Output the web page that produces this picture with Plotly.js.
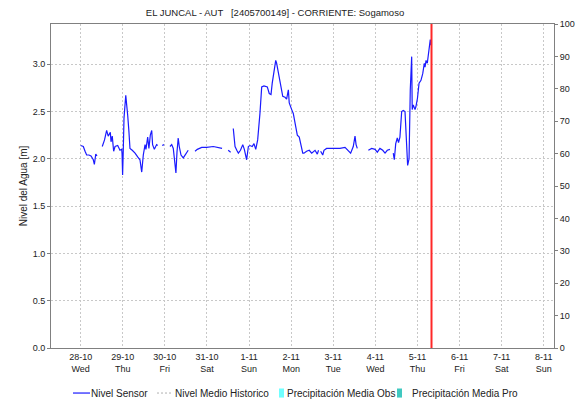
<!DOCTYPE html>
<html>
<head>
<meta charset="utf-8">
<script src="https://cdn.plot.ly/plotly-3.0.1.min.js"></script>
<style>html,body{margin:0;padding:0;background:#fff;}#chart{width:577px;height:404px;}</style>
</head>
<body>
<div id="chart"></div>
<script>
// ---- data ----
const startDate = "2020-10-28";
const currentTime = "2020-11-05 08:00:00";
// hours since 28-10 00:00 (null level = gap in record)
const hours = [
  0,1.5,2.5,3.4,4.7,5.9,7.2,7.8,8.6,9.3, 10.8,
  12.3,13.6,14.8,15.7,16.9,17.3,18.0,18.8,19.6,21.1,22.4,23.4,23.6,23.9,24.3,24.7,25.7,26.2,26.8,27.5,28.1,29.4,31.0,32.5,33.8,34.8,35.7,36.7,37.2,38.2,38.9,39.7,40.5,41.0,42.0,43.3,43.9, 45,
  46.5,47.5, 49,
  50.9,51.9,52.8,53.8,54.3,54.9,55.6,56.2,57.2,58.5,60.0,61.3, 63,
  65.2,66.5,69.0,71.8,75.6,79.4,80.6, 82,
  84.1,85.5, 86.2,
  87.0,88.0,89.0,89.9,91.1,92.4,93.3,94.6,95.6,96.5,97.8,98.8,99.8,100.9,102.2,103.2,104.5,106.4,107.5,108.5,109.2,110.2,111.2,111.7,112.7,113.6,115.2,116.5,117.4,118.4,118.9,120.3,121.2,122.6,123.5,124.6,125.6,126.6,127.3,128.8,130.3,131.7,133.6,134.9,135.6, 136.2,
  136.8,138.0,138.7,140.2,144.0,147.8,150.7,152.6,153.9,155.4,156.4,157.0,157.7, 160,
  164.0,165.9,167.8,169.1,170.6,172.2,173.5,174.8,176.3, 177.2,
  178.2,178.8,179.6,180.5,181.2,182.0,183.0,183.9,184.9,185.4,186.0,186.4,187.2,187.9,188.7,188.9,189.0,189.6,190.6,191.1,192.0,192.9,194.0,195.0,195.9,196.3,196.9,197.6,198.2,198.7,199.3,199.7,199.9
];
const nivelSensor = [
  2.14,2.13,2.08,2.04,2.04,2.03,1.99,1.94,2.05,2.03, null,
  2.13,2.20,2.30,2.24,2.28,2.18,2.24,2.08,2.13,2.14,2.09,2.10,2.05,1.83,2.10,2.43,2.67,2.60,2.46,2.29,2.11,2.09,2.06,2.02,1.99,1.86,2.04,2.15,2.10,2.23,2.11,2.25,2.30,2.15,2.10,2.15,2.14, null,
  2.14,2.15, null,
  2.13,2.15,2.11,1.93,1.85,2.07,2.22,2.13,2.04,2.01,2.05,2.09, null,
  2.08,2.10,2.12,2.12,2.13,2.12,2.11, null,
  2.09,2.07, null,
  2.32,2.13,2.09,2.06,2.09,2.15,2.10,1.99,2.13,2.14,2.13,2.16,2.10,2.20,2.48,2.76,2.77,2.76,2.69,2.68,2.80,2.94,3.04,3.01,2.91,2.80,2.66,2.65,2.63,2.73,2.59,2.52,2.48,2.34,2.25,2.23,2.15,2.06,2.06,2.08,2.09,2.06,2.09,2.05,2.09, null,
  2.08,2.04,2.09,2.11,2.11,2.11,2.12,2.09,2.06,2.13,2.24,2.15,2.11, null,
  2.09,2.11,2.10,2.07,2.11,2.09,2.06,2.09,2.10, null,
  2.06,1.99,2.16,2.22,2.17,2.23,2.50,2.51,2.50,2.28,2.03,1.93,2.00,2.73,3.08,2.74,2.52,2.57,2.52,2.55,2.64,2.80,2.83,2.90,3.01,2.97,3.04,3.01,3.10,3.20,3.26,3.20,3.22
];
const tickDates = ["2020-10-28","2020-10-29","2020-10-30","2020-10-31","2020-11-01","2020-11-02","2020-11-03","2020-11-04","2020-11-05","2020-11-06","2020-11-07","2020-11-08"];
const tickDayMonth = ["28-10","29-10","30-10","31-10","1-11","2-11","3-11","4-11","5-11","6-11","7-11","8-11"];
const tickWeekday = ["Wed","Thu","Fri","Sat","Sun","Mon","Tue","Wed","Thu","Fri","Sat","Sun"];
const legendNames = ["Nivel Sensor","Nivel Medio Historico","Precipitación Media Obs","Precipitación Media Pro"];
const xRange = ["2020-10-27 07:05:00","2020-11-08 05:50:00"];
const yRange = [0, 3.425];
const y2Range = [0, 100];

// ---- build ----
const t0 = Date.UTC(2020, 9, 28);
function fmt(ms){ return new Date(ms).toISOString().replace('T',' ').slice(0,19); }
const times = hours.map(h => fmt(t0 + h*3600e3));
const tickText = tickDayMonth.map((d,i) => d + "<br>" + tickWeekday[i]);

const font = "Liberation Sans, Arial, sans-serif";
const traces = [
  {x: times, y: nivelSensor, type: 'scatter', mode: 'lines', name: legendNames[0],
   line: {color: '#1a1aff', width: 1.2}, connectgaps: false, showlegend: false, hoverinfo: 'x+y'},
  {x: [], y: [], type: 'scatter', mode: 'lines', name: legendNames[1], yaxis: 'y', showlegend: false},
  {x: [], y: [], type: 'bar', name: legendNames[2], yaxis: 'y2', showlegend: false, marker: {color: '#70ffff'}},
  {x: [], y: [], type: 'bar', name: legendNames[3], yaxis: 'y2', showlegend: false, marker: {color: '#40c8c0'}},
  {x: [currentTime, currentTime], y: y2Range, type: 'scatter', mode: 'lines', yaxis: 'y2', name: 'now',
   line: {color: 'rgb(255,40,40)', width: 2}, showlegend: false, cliponaxis: true}
];

function px2x(p){ return (p - 51) / 503; }
const ly = -0.139;
const shapes = [
  {type: 'line', xref: 'paper', yref: 'paper', x0: px2x(73), x1: px2x(90), y0: ly, y1: ly,
   line: {color: '#1a1aff', width: 1.2}},
  {type: 'line', xref: 'paper', yref: 'paper', x0: px2x(157), x1: px2x(171), y0: ly, y1: ly,
   line: {color: '#b0b0b0', width: 1, dash: '2px,2px'}},
  {type: 'rect', xref: 'paper', yref: 'paper', x0: px2x(279), x1: px2x(284), y0: ly - 0.014, y1: ly + 0.014,
   line: {width: 0}, fillcolor: '#70ffff'},
  {type: 'rect', xref: 'paper', yref: 'paper', x0: px2x(397), x1: px2x(402), y0: ly - 0.014, y1: ly + 0.014,
   line: {width: 0}, fillcolor: '#40c8c0'}
];
const legendX = [91, 175, 287, 412];
const annotations = legendNames.map((n,i) => ({
  text: n, xref: 'paper', yref: 'paper', x: px2x(legendX[i]) - 0.003, y: ly,
  xanchor: 'left', yanchor: 'middle', showarrow: false,
  font: {family: font, size: 10, color: '#222'}
}));

const gridStyle = {showgrid: true, gridcolor: '#c8c8c8', griddash: '2px,2px', gridwidth: 1};

const layout = {
  width: 577, height: 404,
  margin: {l: 51, r: 23, t: 24, b: 56, pad: 0},
  paper_bgcolor: '#ffffff', plot_bgcolor: '#ffffff',
  showlegend: false,
  title: {text: "EL JUNCAL - AUT &nbsp; [2405700149] - CORRIENTE: Sogamoso",
          x: 275/577, xanchor: 'center', xref: 'container', y: 1 - 13/404, yanchor: 'middle',
          font: {family: font, size: 9.5, color: '#222'}},
  xaxis: Object.assign({type: 'date', range: xRange, tickvals: tickDates, ticktext: tickText,
          showline: true, linecolor: '#808080', linewidth: 1, mirror: true,
          ticks: '', zeroline: false, tickfont: {family: font, size: 9, color: '#222'}}, gridStyle),
  yaxis: Object.assign({range: yRange, dtick: 0.5, tick0: 0, tickformat: '.1f',
          showline: true, linecolor: '#808080', linewidth: 1, zeroline: false,
          ticks: 'outside', ticklen: 3, tickcolor: '#808080',
          tickfont: {family: font, size: 9, color: '#222'},
          title: {text: 'Nivel del Agua [m]', standoff: 3, font: {family: font, size: 10, color: '#222'}}}, gridStyle),
  yaxis2: {range: y2Range, dtick: 10, overlaying: 'y', side: 'right', showgrid: false,
           showline: true, linecolor: '#808080', linewidth: 1, zeroline: false,
           ticks: 'outside', ticklen: 3, tickcolor: '#808080',
           tickfont: {family: font, size: 9, color: '#222'}},
  shapes: shapes,
  annotations: annotations
};

Plotly.newPlot('chart', traces, layout, {displayModeBar: false, staticPlot: true});
</script>
</body>
</html>
